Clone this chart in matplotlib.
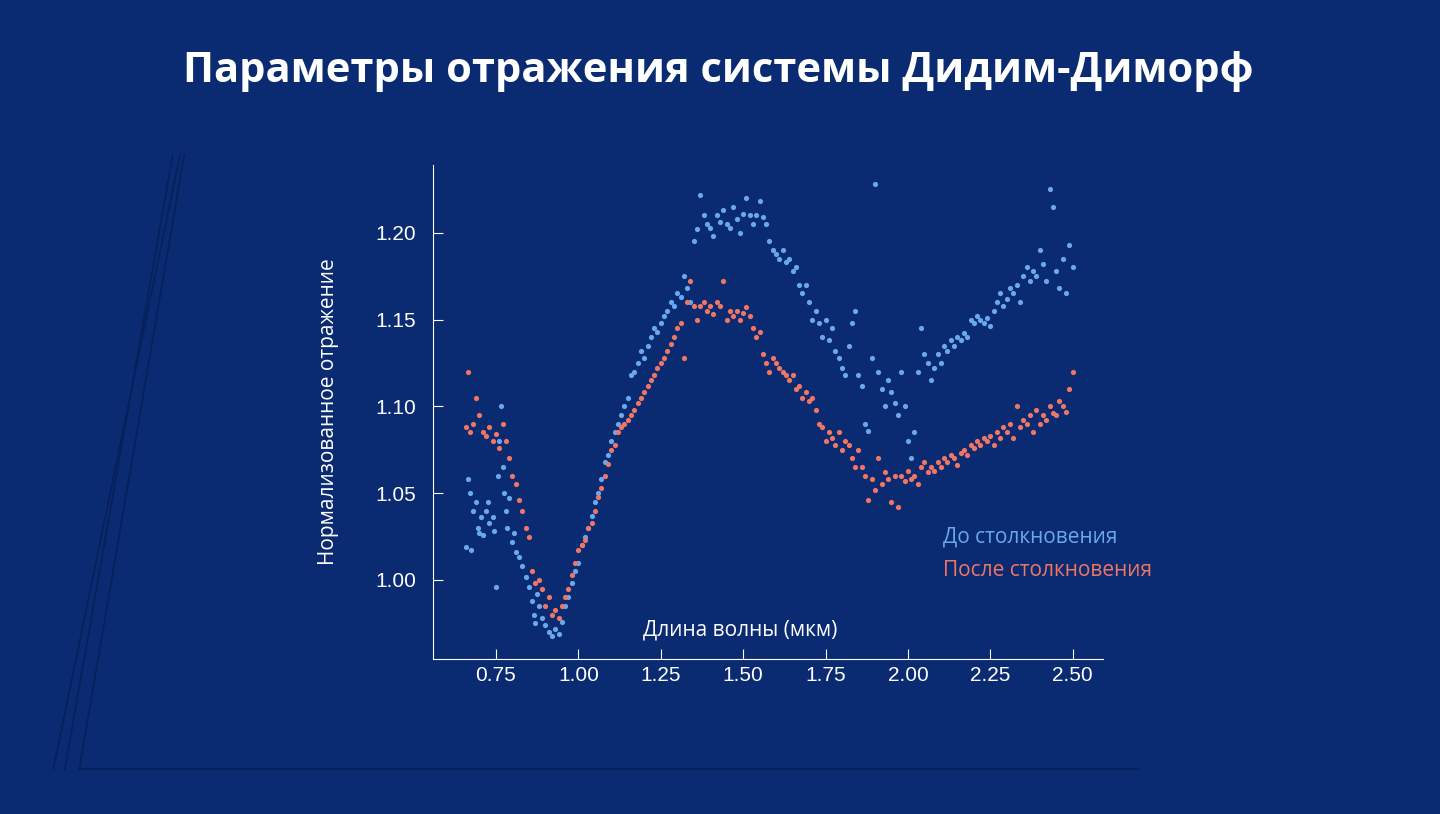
import matplotlib.pyplot as plt
from matplotlib.lines import Line2D

# До столкновения (before impact)
before_x = [0.66, 0.665, 0.67, 0.675, 0.68, 0.69, 0.695, 0.70, 0.705, 0.71, 0.72, 0.725, 0.73, 0.74, 0.745, 0.75, 0.755, 0.76, 0.765, 0.77, 0.775, 0.78, 0.785, 0.79,
            0.80, 0.805, 0.81, 0.82, 0.83, 0.84, 0.85, 0.86, 0.865, 0.87, 0.875, 0.88, 0.89, 0.90, 0.91, 0.92, 0.93, 0.94, 0.95, 0.96, 0.97, 0.98, 0.99,
            1.00, 1.01, 1.02, 1.03, 1.04, 1.05, 1.06, 1.07, 1.08, 1.09, 1.10, 1.11, 1.12, 1.13, 1.14, 1.15, 1.16, 1.17, 1.18, 1.19,
            1.20, 1.21, 1.22, 1.23, 1.24, 1.25, 1.26, 1.27, 1.28, 1.29, 1.30, 1.31, 1.32, 1.33, 1.34, 1.35, 1.36, 1.37, 1.38, 1.39,
            1.40, 1.41, 1.42, 1.43, 1.44, 1.45, 1.46, 1.47, 1.48, 1.49, 1.50, 1.51, 1.52, 1.53, 1.54, 1.55, 1.56, 1.57, 1.58, 1.59,
            1.60, 1.61, 1.62, 1.63, 1.64, 1.65, 1.66, 1.67, 1.68, 1.69, 1.70, 1.71, 1.72, 1.73, 1.74, 1.75, 1.76, 1.77, 1.78, 1.79,
            1.80, 1.81, 1.82, 1.83, 1.84, 1.85, 1.86, 1.87, 1.88, 1.89, 1.90, 1.91, 1.92, 1.93, 1.94, 1.95, 1.96, 1.97, 1.98, 1.99,
            2.00, 2.01, 2.02, 2.03, 2.04, 2.05, 2.06, 2.07, 2.08, 2.09, 2.10, 2.11, 2.12, 2.13, 2.14, 2.15, 2.16, 2.17, 2.18, 2.19,
            2.20, 2.21, 2.22, 2.23, 2.24, 2.25, 2.26, 2.27, 2.28, 2.29, 2.30, 2.31, 2.32, 2.33, 2.34, 2.35, 2.36, 2.37, 2.38, 2.39,
            2.40, 2.41, 2.42, 2.43, 2.44, 2.45, 2.46, 2.47, 2.48, 2.49, 2.50]
before_y = [1.019, 1.058, 1.05, 1.017, 1.04, 1.045, 1.03, 1.027, 1.036, 1.026, 1.04, 1.045, 1.033, 1.036, 1.028, 0.996, 1.06, 1.08, 1.10, 1.065, 1.05, 1.04, 1.03, 1.047,
            1.022, 1.027, 1.016, 1.013, 1.008, 1.002, 0.996, 0.988, 0.98, 0.975, 0.992, 0.985, 0.978, 0.974, 0.97, 0.968, 0.972, 0.969, 0.976, 0.985, 0.99, 0.998, 1.005,
            1.01, 1.02, 1.025, 1.03, 1.037, 1.045, 1.05, 1.058, 1.068, 1.072, 1.08, 1.085, 1.09, 1.095, 1.10, 1.105, 1.118, 1.12, 1.125, 1.132,
            1.128, 1.135, 1.14, 1.145, 1.143, 1.148, 1.152, 1.155, 1.16, 1.158, 1.165, 1.163, 1.175, 1.168, 1.16, 1.195, 1.202, 1.222, 1.21, 1.205,
            1.203, 1.198, 1.21, 1.206, 1.213, 1.205, 1.203, 1.215, 1.208, 1.20, 1.211, 1.22, 1.21, 1.205, 1.21, 1.218, 1.209, 1.205, 1.195, 1.19,
            1.188, 1.185, 1.19, 1.183, 1.185, 1.178, 1.18, 1.17, 1.165, 1.17, 1.16, 1.15, 1.155, 1.148, 1.14, 1.15, 1.138, 1.145, 1.132, 1.128,
            1.122, 1.118, 1.135, 1.148, 1.155, 1.118, 1.112, 1.09, 1.086, 1.128, 1.228, 1.12, 1.11, 1.10, 1.115, 1.108, 1.102, 1.095, 1.12, 1.10,
            1.08, 1.07, 1.085, 1.12, 1.145, 1.13, 1.125, 1.115, 1.122, 1.13, 1.125, 1.135, 1.132, 1.138, 1.135, 1.14, 1.138, 1.142, 1.14, 1.15,
            1.148, 1.152, 1.15, 1.148, 1.151, 1.146, 1.155, 1.16, 1.165, 1.158, 1.162, 1.168, 1.165, 1.17, 1.16, 1.175, 1.18, 1.172, 1.178, 1.175,
            1.19, 1.182, 1.172, 1.225, 1.215, 1.178, 1.168, 1.185, 1.165, 1.193, 1.18]

# После столкновения (after impact)
after_x = [0.66, 0.665, 0.67, 0.68, 0.69, 0.70, 0.71, 0.72, 0.73, 0.74, 0.75, 0.76, 0.77, 0.78, 0.79,
           0.80, 0.81, 0.82, 0.83, 0.84, 0.85, 0.86, 0.87, 0.88, 0.89, 0.90, 0.91, 0.92, 0.93, 0.94, 0.95, 0.96, 0.97, 0.98, 0.99,
           1.00, 1.01, 1.02, 1.03, 1.04, 1.05, 1.06, 1.07, 1.08, 1.09, 1.10, 1.11, 1.12, 1.13, 1.14, 1.15, 1.16, 1.17, 1.18, 1.19,
           1.20, 1.21, 1.22, 1.23, 1.24, 1.25, 1.26, 1.27, 1.28, 1.29, 1.30, 1.31, 1.32, 1.33, 1.34, 1.35, 1.36, 1.37, 1.38, 1.39,
           1.40, 1.41, 1.42, 1.43, 1.44, 1.45, 1.46, 1.47, 1.48, 1.49, 1.50, 1.51, 1.52, 1.53, 1.54, 1.55, 1.56, 1.57, 1.58, 1.59,
           1.60, 1.61, 1.62, 1.63, 1.64, 1.65, 1.66, 1.67, 1.68, 1.69, 1.70, 1.71, 1.72, 1.73, 1.74, 1.75, 1.76, 1.77, 1.78, 1.79,
           1.80, 1.81, 1.82, 1.83, 1.84, 1.85, 1.86, 1.87, 1.88, 1.89, 1.90, 1.91, 1.92, 1.93, 1.94, 1.95, 1.96, 1.97, 1.98, 1.99,
           2.00, 2.01, 2.02, 2.03, 2.04, 2.05, 2.06, 2.07, 2.08, 2.09, 2.10, 2.11, 2.12, 2.13, 2.14, 2.15, 2.16, 2.17, 2.18, 2.19,
           2.20, 2.21, 2.22, 2.23, 2.24, 2.25, 2.26, 2.27, 2.28, 2.29, 2.30, 2.31, 2.32, 2.33, 2.34, 2.35, 2.36, 2.37, 2.38, 2.39,
           2.40, 2.41, 2.42, 2.43, 2.44, 2.45, 2.46, 2.47, 2.48, 2.49, 2.50]
after_y = [1.088, 1.12, 1.085, 1.09, 1.105, 1.095, 1.085, 1.083, 1.088, 1.08, 1.084, 1.076, 1.09, 1.08, 1.07,
           1.06, 1.055, 1.046, 1.04, 1.03, 1.025, 1.005, 0.998, 1.0, 0.995, 0.985, 0.99, 0.98, 0.983, 0.978, 0.985, 0.99, 0.995, 1.003, 1.01,
           1.017, 1.02, 1.023, 1.03, 1.033, 1.04, 1.048, 1.053, 1.06, 1.067, 1.075, 1.078, 1.085, 1.088, 1.09, 1.092, 1.095, 1.098, 1.102, 1.105,
           1.108, 1.112, 1.115, 1.118, 1.122, 1.125, 1.128, 1.132, 1.136, 1.14, 1.145, 1.148, 1.128, 1.16, 1.172, 1.158, 1.15, 1.158, 1.16, 1.155,
           1.158, 1.153, 1.16, 1.158, 1.172, 1.15, 1.155, 1.152, 1.155, 1.15, 1.154, 1.157, 1.152, 1.145, 1.14, 1.143, 1.13, 1.125, 1.12, 1.128,
           1.125, 1.122, 1.12, 1.118, 1.115, 1.118, 1.11, 1.112, 1.105, 1.108, 1.103, 1.105, 1.098, 1.09, 1.088, 1.08, 1.085, 1.082, 1.078, 1.085,
           1.075, 1.08, 1.078, 1.07, 1.065, 1.075, 1.065, 1.06, 1.046, 1.058, 1.052, 1.07, 1.055, 1.062, 1.058, 1.045, 1.06, 1.042, 1.06, 1.057,
           1.063, 1.058, 1.06, 1.055, 1.065, 1.068, 1.062, 1.065, 1.063, 1.068, 1.065, 1.07, 1.068, 1.072, 1.07, 1.066, 1.073, 1.075, 1.072, 1.078,
           1.076, 1.08, 1.078, 1.082, 1.08, 1.083, 1.078, 1.085, 1.082, 1.088, 1.085, 1.09, 1.082, 1.10, 1.088, 1.092, 1.09, 1.095, 1.085, 1.098,
           1.09, 1.095, 1.092, 1.10, 1.096, 1.095, 1.103, 1.10, 1.097, 1.11, 1.12]

x_ticks = [0.75, 1.00, 1.25, 1.50, 1.75, 2.00, 2.25, 2.50]
y_ticks = [1.00, 1.05, 1.10, 1.15, 1.20]

BG = '#0a2b72'
BLUE = '#6aa8ee'
RED = '#f07664'

plt.rcParams['font.family'] = 'Liberation Sans'
fig = plt.figure(figsize=(14.4, 8.14), dpi=100, facecolor=BG)

# faint decorative lines at left
for x0, x1 in [(0.037, 0.125), (0.045, 0.12), (0.055, 0.128)]:
    fig.add_artist(Line2D([x0, x1], [0.055, 0.81], color='#06205a', lw=1.2))
fig.add_artist(Line2D([0.055, 0.79], [0.055, 0.055], color='#06205a', lw=1.2))

ax = fig.add_axes([433/1440, 1 - 659/814, 670/1440, 494/814], facecolor=BG)
ax.scatter(before_x, before_y, s=14, color=BLUE, linewidths=0)
ax.scatter(after_x, after_y, s=14, color=RED, linewidths=0)

ax.set_xlim(0.559, 2.592)
ax.set_ylim(0.9545, 1.239)
ax.set_xticks(x_ticks)
ax.set_xticklabels(['%.2f' % v for v in x_ticks])
ax.set_yticks(y_ticks)
ax.set_yticklabels(['%.2f' % v for v in y_ticks])
ax.tick_params(direction='in', colors='white', labelsize=15, length=7)
ax.tick_params(axis='x', pad=5)
ax.tick_params(axis='y', pad=12)
for s in ['top', 'right']:
    ax.spines[s].set_visible(False)
for s in ['left', 'bottom']:
    ax.spines[s].set_color('white')
ax.set_ylabel('Нормализованное отражение', color='white', fontsize=15, fontfamily='Open Sans', labelpad=26)

fig.text(740/1440, 1 - 630/814, 'Длина волны (мкм)', color='white', fontsize=15, ha='center', va='center', fontfamily='Open Sans')
fig.text(943/1440, 1 - 537/814, 'До столкновения', color=BLUE, fontsize=15, ha='left', va='center', fontfamily='Open Sans')
fig.text(943/1440, 1 - 571/814, 'После столкновения', color=RED, fontsize=15, ha='left', va='center', fontfamily='Open Sans')

fig.text(718/1440, 1 - 72/814, 'Параметры отражения системы Дидим-Диморф', color='white', fontsize=30,
         fontweight='bold', ha='center', va='center', fontfamily='Open Sans')

fig.savefig('out.png', dpi=100, facecolor=BG)
